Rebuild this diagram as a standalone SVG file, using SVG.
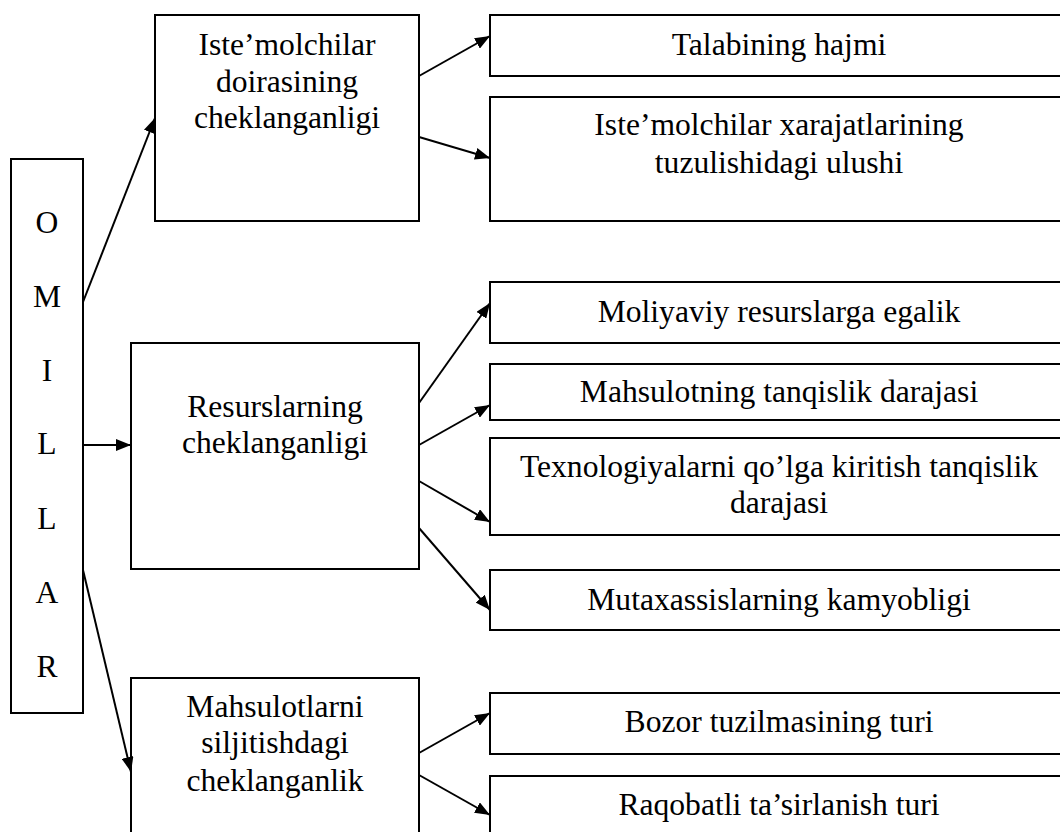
<svg xmlns="http://www.w3.org/2000/svg" width="1060" height="832" viewBox="0 0 1060 832">
<style>
.box{fill:#fff;stroke:#000;stroke-width:2}
.t{font-family:"Liberation Serif","Times New Roman",serif;font-size:31.6px;fill:#000;text-anchor:middle}
.c{stroke:#000;stroke-width:2;fill:none;marker-end:url(#ah)}
</style>
<defs>
<marker id="ah" markerUnits="userSpaceOnUse" markerWidth="16" markerHeight="12" refX="15" refY="6" orient="auto">
<path d="M0,0 L15,6 L0,12 z" fill="#000"/>
</marker>
</defs>
<rect width="1060" height="832" fill="#fff"/>
<g id="omillar">
<rect class="box" x="11" y="159" width="72" height="554"/>
<text class="t" x="47" y="233">O</text>
<text class="t" x="47" y="307">M</text>
<text class="t" x="47" y="381">I</text>
<text class="t" x="47" y="454">L</text>
<text class="t" x="47" y="529">L</text>
<text class="t" x="47" y="603">A</text>
<text class="t" x="47" y="677">R</text>
</g>
<g id="istemolchilar-doirasi">
<rect class="box" x="155" y="15" width="264" height="206"/>
<text class="t" x="287" y="55">Iste’molchilar</text>
<text class="t" x="287" y="92">doirasining</text>
<text class="t" x="287" y="128">cheklanganligi</text>
</g>
<g id="resurslar">
<rect class="box" x="131" y="343" width="288" height="226"/>
<text class="t" x="275" y="417">Resurslarning</text>
<text class="t" x="275" y="453">cheklanganligi</text>
</g>
<g id="mahsulotlarni-siljitish">
<rect class="box" x="131" y="678" width="288" height="170"/>
<text class="t" x="275" y="717">Mahsulotlarni</text>
<text class="t" x="275" y="753">siljitishdagi</text>
<text class="t" x="275" y="791">cheklanganlik</text>
</g>
<g id="talab-hajmi">
<rect class="box" x="490" y="15" width="580" height="61"/>
<text class="t" x="779" y="55">Talabining hajmi</text>
</g>
<g id="xarajat-ulushi">
<rect class="box" x="490" y="97" width="580" height="124"/>
<text class="t" x="779" y="135">Iste’molchilar xarajatlarining</text>
<text class="t" x="779" y="173">tuzulishidagi ulushi</text>
</g>
<g id="moliyaviy">
<rect class="box" x="490" y="282" width="580" height="61"/>
<text class="t" x="779" y="322">Moliyaviy resurslarga egalik</text>
</g>
<g id="mahsulot-tanqislik">
<rect class="box" x="490" y="364" width="580" height="56"/>
<text class="t" x="779" y="402">Mahsulotning tanqislik darajasi</text>
</g>
<g id="texnologiya">
<rect class="box" x="490" y="438" width="580" height="97"/>
<text class="t" x="779" y="477">Texnologiyalarni qo’lga kiritish tanqislik</text>
<text class="t" x="779" y="513">darajasi</text>
</g>
<g id="mutaxassis">
<rect class="box" x="490" y="570" width="580" height="60"/>
<text class="t" x="779" y="610">Mutaxassislarning kamyobligi</text>
</g>
<g id="bozor">
<rect class="box" x="490" y="693" width="580" height="61"/>
<text class="t" x="779" y="732">Bozor tuzilmasining turi</text>
</g>
<g id="raqobat">
<rect class="box" x="490" y="776" width="580" height="72"/>
<text class="t" x="779" y="815">Raqobatli ta’sirlanish turi</text>
</g>
<g id="connectors">
<line class="c" x1="83" y1="302" x2="155" y2="118"/>
<line class="c" x1="83" y1="445" x2="131" y2="445"/>
<line class="c" x1="83" y1="570" x2="131" y2="772"/>
<line class="c" x1="419" y1="76" x2="490" y2="36"/>
<line class="c" x1="419" y1="137" x2="490" y2="158"/>
<line class="c" x1="419" y1="403" x2="490" y2="303"/>
<line class="c" x1="419" y1="445" x2="490" y2="405"/>
<line class="c" x1="419" y1="481" x2="490" y2="522"/>
<line class="c" x1="419" y1="528" x2="490" y2="610"/>
<line class="c" x1="419" y1="753" x2="490" y2="713"/>
<line class="c" x1="419" y1="775" x2="490" y2="815"/>
</g>
</svg>
